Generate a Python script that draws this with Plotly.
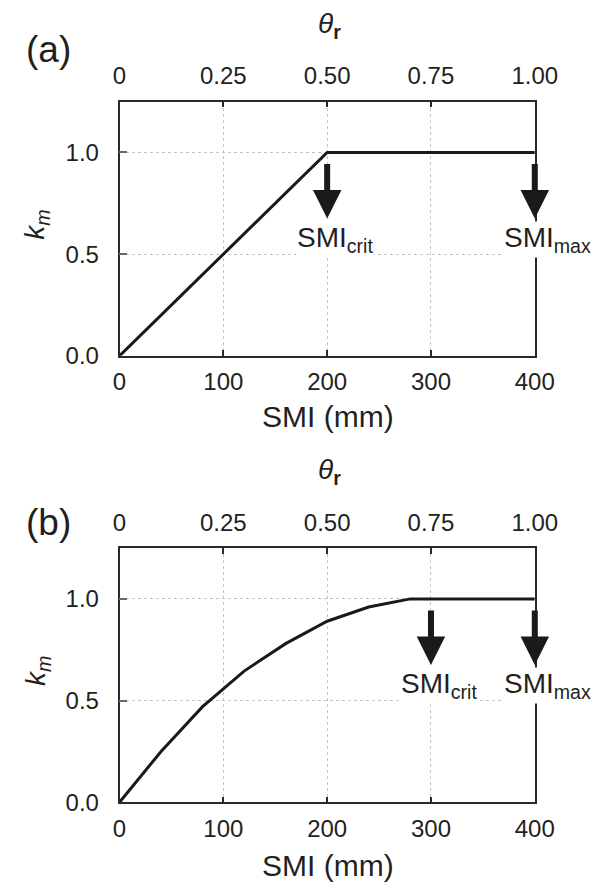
import plotly.graph_objects as go

# ---------------- data ----------------
smi_a = [0, 200, 400]
km_a = [0.0, 1.0, 1.0]

smi_b = [0, 40, 80, 120, 160, 200, 240, 280, 400]
km_b = [0.0, 0.25, 0.47, 0.645, 0.78, 0.89, 0.96, 1.0, 1.0]

smi_ticks = [0, 100, 200, 300, 400]
theta_ticks = [0, 0.25, 0.5, 0.75, 1.0]
theta_labels = ["0", "0.25", "0.50", "0.75", "1.00"]
km_ticks = [0.0, 0.5, 1.0]
km_labels = ["0.0", "0.5", "1.0"]

smi_crit_a = 200
smi_crit_b = 300
smi_max = 400
km_level = 1.0

# ---------------- style ----------------
W, H = 603, 894
FONT = "Liberation Sans, Arial, Helvetica, sans-serif"
TXT = "#231f20"
LINE = "#1a1a1a"
AX = "#2a2a2a"
GRID = "#c4c4c4"


def px_x(p):
    return p / W


def px_y(p):
    return 1 - p / H


x_dom = [px_x(110), px_x(547)]
ya_dom = [px_y(353), px_y(95)]
yb_dom = [px_y(806), px_y(548)]

fig = go.Figure()

fig.add_trace(go.Scatter(x=smi_a, y=km_a, xaxis="x", yaxis="y", mode="lines",
                         line=dict(color=LINE, width=3), hoverinfo="skip", showlegend=False))
fig.add_trace(go.Scatter(x=theta_ticks, y=[None] * len(theta_ticks), xaxis="x2", yaxis="y",
                         mode="lines", hoverinfo="skip", showlegend=False))
fig.add_trace(go.Scatter(x=smi_b, y=km_b, xaxis="x3", yaxis="y2", mode="lines",
                         line=dict(color=LINE, width=3), hoverinfo="skip", showlegend=False))
fig.add_trace(go.Scatter(x=theta_ticks, y=[None] * len(theta_ticks), xaxis="x4", yaxis="y2",
                         mode="lines", hoverinfo="skip", showlegend=False))

tickfont = dict(family=FONT, size=24, color=TXT)


def bottom_axis(anchor):
    return dict(domain=x_dom, anchor=anchor, range=[0, 400], tickvals=smi_ticks,
                ticks="inside", ticklen=6, tickwidth=1.5, tickcolor=AX,
                showgrid=True, gridcolor=GRID, griddash="dot", gridwidth=1,
                showline=True, linecolor=AX, linewidth=1.5, zeroline=False,
                tickfont=tickfont, ticklabelstandoff=4, fixedrange=True)


def top_axis(over, anchor):
    return dict(overlaying=over, anchor=anchor, side="top", range=[0, 1],
                tickvals=theta_ticks, ticktext=theta_labels,
                ticks="inside", ticklen=6, tickwidth=1.5, tickcolor=AX,
                showgrid=False, showline=True, linecolor=AX, linewidth=1.5,
                zeroline=False, tickfont=tickfont, ticklabelstandoff=6, fixedrange=True)


def left_axis(dom, anchor):
    return dict(domain=dom, anchor=anchor, range=[0, 1.25], tickvals=km_ticks,
                ticktext=km_labels, ticks="inside", ticklen=8, tickwidth=2,
                tickcolor="#6a6a6a", showgrid=True, gridcolor=GRID, griddash="dot",
                gridwidth=1, showline=True, linecolor=AX, linewidth=1.5, mirror=True,
                zeroline=False, tickfont=tickfont, ticklabelstandoff=14, fixedrange=True)


fig.update_layout(
    width=W, height=H, autosize=False,
    margin=dict(l=0, r=0, t=0, b=0),
    paper_bgcolor="white", plot_bgcolor="white",
    showlegend=False,
    xaxis=bottom_axis("y"),
    xaxis2=top_axis("x", "y"),
    yaxis=left_axis(ya_dom, "x"),
    xaxis3=bottom_axis("y2"),
    xaxis4=top_axis("x3", "y2"),
    yaxis2=left_axis(yb_dom, "x3"),
)

annotations = []

# arrows and SMI labels
for xr, yr, crit in [("x", "y", smi_crit_a), ("x3", "y2", smi_crit_b)]:
    for val, sub, xs in [(crit, "crit", 8), (smi_max, "max", 13)]:
        annotations.append(dict(
            x=val, y=km_level, xref=xr, yref=yr, text="", showarrow=True,
            arrowhead=2, arrowsize=0.95, arrowwidth=6, arrowcolor=LINE,
            ax=0, ay=-56, yshift=-66, standoff=0, startstandoff=0))
        annotations.append(dict(
            x=val, y=km_level, xref=xr, yref=yr, showarrow=False,
            text="SMI<sub>%s</sub>" % sub, xshift=xs, yshift=-87,
            font=dict(family=FONT, size=28, color=TXT), bgcolor="white",
            xanchor="center", yanchor="middle", borderpad=0))

title_font = dict(family=FONT, size=30, color=TXT)
for th_y, smi_y, km_y, lab, ly in [(18, 415, 220, "(a)", 42), (470, 870, 673, "(b)", 522)]:
    annotations.append(dict(x=px_x(331), y=px_y(th_y), xref="paper", yref="paper",
                            text="<i>θ</i><sub><b>r</b></sub>", showarrow=False,
                            font=dict(family=FONT, size=28, color=TXT),
                            xanchor="center", yanchor="middle"))
    annotations.append(dict(x=px_x(329), y=px_y(smi_y), xref="paper", yref="paper",
                            text="SMI (mm)", showarrow=False,
                            font=title_font, xanchor="center", yanchor="middle"))
    annotations.append(dict(x=px_x(23), y=px_y(km_y), xref="paper", yref="paper",
                            text="<i>k<sub>m</sub></i>", showarrow=False, textangle=-90,
                            font=dict(family=FONT, size=28, color=TXT),
                            xanchor="center", yanchor="middle"))
    annotations.append(dict(x=px_x(35), y=px_y(ly), xref="paper", yref="paper",
                            text=lab, showarrow=False,
                            font=dict(family=FONT, size=37, color=TXT),
                            xanchor="center", yanchor="middle"))

fig.update_layout(annotations=annotations)

fig.write_html("out.html")
